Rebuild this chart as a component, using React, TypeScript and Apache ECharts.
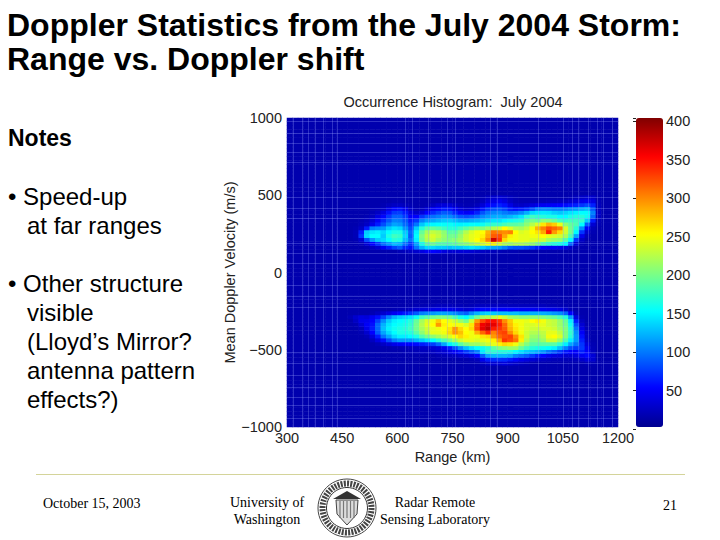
import React, { useEffect, useRef } from "react";
import * as echarts from "echarts";

const titleLines = ["Doppler Statistics from the July 2004 Storm:", "Range vs. Doppler shift"];
const notesHeading = "Notes";
const noteLines = [
  { text: "• Speed-up", x: 8, y: 196 },
  { text: "at far ranges", x: 27, y: 225 },
  { text: "• Other structure", x: 8, y: 283 },
  { text: "visible", x: 27, y: 312 },
  { text: "(Lloyd’s Mirror?", x: 27, y: 341 },
  { text: "antenna pattern", x: 27, y: 370 },
  { text: "effects?)", x: 27, y: 399 },
];

const rangeStep = 15;
const velocityStep = 25;
const ranges: number[] = [];
for (let r = 300; r < 1200; r += rangeStep) ranges.push(r);
const velocities: number[] = [];
for (let v = -1000; v < 1000; v += velocityStep) velocities.push(v);

const backgroundCount = 14;
const bandStartRange = 465;

const upperVelocities = [475, 450, 425, 400, 375, 350, 325, 300, 275, 250, 225, 200, 175, 150, 125];
const upperBand = [
  [14,14,14,14,14,14,14,14,14,14,14,14,14,14,14,14,14,14,14,14,14,14,14,14,16,22,28,30,26,20,16,14,14,14,14,14,14,14,14,14,16,20,24,28,26,16],
  [14,14,14,14,14,14,14,14,16,16,14,14,14,14,14,14,14,14,14,14,14,14,14,14,20,32,38,44,36,24,18,16,16,16,18,18,20,20,22,24,28,34,40,44,38,18],
  [14,14,14,14,14,14,16,20,24,24,20,16,14,14,16,22,30,34,32,24,18,16,16,20,32,48,55,62,56,38,26,24,28,34,40,44,46,48,50,54,58,62,70,78,62,20],
  [14,14,14,14,16,18,22,36,52,56,42,24,16,20,30,44,52,60,58,44,32,26,28,36,58,74,82,85,76,62,55,60,68,82,100,106,104,100,100,102,108,112,120,125,86,22],
  [14,14,14,14,18,24,36,56,72,74,60,36,26,34,50,66,76,85,82,66,52,46,50,62,82,96,102,105,98,92,96,104,118,135,140,142,140,132,128,134,140,146,150,150,100,24],
  [14,14,14,16,22,36,52,72,88,88,74,48,50,70,84,94,100,106,104,94,84,80,84,92,104,112,118,120,116,122,130,140,165,175,170,165,160,160,150,150,160,165,165,155,90,22],
  [14,14,16,20,30,46,66,84,100,98,84,60,72,100,112,116,122,128,130,124,116,114,118,122,128,135,140,140,148,155,160,165,190,195,190,205,200,190,175,170,175,175,170,130,60,18],
  [14,14,18,24,40,60,80,100,114,110,92,70,96,128,144,148,150,152,154,148,146,148,152,150,155,165,170,170,178,185,185,190,205,220,235,260,280,270,240,205,190,180,150,85,30,16],
  [14,16,24,60,100,105,110,130,140,135,110,80,130,165,185,190,185,175,165,165,175,185,195,205,200,210,220,230,250,235,220,215,225,245,280,300,320,310,300,235,195,165,105,48,20,14],
  [14,18,60,130,140,145,135,150,160,160,130,90,145,190,215,225,220,205,185,185,200,220,235,245,250,280,305,300,295,300,250,235,240,250,260,285,340,290,265,230,195,150,70,28,16,14],
  [14,18,70,135,150,150,130,160,175,170,135,85,150,200,225,235,225,210,195,195,210,230,240,245,255,285,315,320,285,255,245,240,240,245,245,250,240,235,230,215,180,115,40,18,14,14],
  [14,16,30,80,110,130,135,150,165,160,125,95,145,195,220,230,215,205,200,205,215,230,240,250,265,300,370,330,265,245,245,240,240,235,235,230,215,210,205,185,150,70,24,14,14,14],
  [14,14,18,30,50,70,95,110,125,120,95,70,115,160,190,195,185,185,185,190,200,205,215,225,235,245,255,235,220,215,220,220,215,210,200,180,170,165,160,150,90,30,16,14,14,14],
  [14,14,14,16,22,30,45,60,75,85,65,55,95,120,135,135,130,130,125,130,130,135,140,135,130,120,115,110,100,85,80,80,75,70,60,50,45,45,40,34,24,16,14,14,14,14],
  [14,14,14,14,14,14,14,14,14,18,20,24,28,36,45,50,45,35,30,30,32,32,30,26,24,22,20,18,16,16,16,14,14,14,14,14,14,14,14,14,14,14,14,14,14,14],
];

const lowerVelocities = [-225, -250, -275, -300, -325, -350, -375, -400, -425, -450, -475, -500, -525, -550, -575, -600];
const lowerBand = [
  [14,14,14,14,14,14,14,14,14,14,14,14,16,16,18,18,20,20,20,18,18,16,18,20,22,22,22,22,22,20,20,20,20,20,20,20,18,18,16,16,14,14,14,14,14,14],
  [14,14,14,14,14,14,14,14,16,18,20,24,28,34,36,38,40,40,40,38,34,30,34,44,52,52,52,50,50,50,48,46,46,46,44,44,42,40,36,28,18,14,14,14,14,14],
  [14,14,14,14,16,22,28,36,44,52,60,70,85,100,105,110,115,115,112,105,95,88,105,120,130,135,130,125,125,125,125,120,120,120,120,118,115,110,105,90,50,18,14,14,14,14],
  [18,28,36,34,44,55,75,100,120,130,135,140,155,175,185,195,200,200,195,180,160,150,170,195,215,220,225,240,230,215,210,205,205,205,205,200,195,190,180,165,110,36,16,14,14,14],
  [14,24,40,42,50,75,105,130,145,150,155,165,190,215,235,245,270,250,240,230,210,195,230,290,320,340,345,330,295,270,245,245,240,250,255,245,230,225,210,190,145,60,22,14,14,14],
  [14,16,30,46,56,90,120,140,150,155,160,170,195,220,240,250,290,255,250,245,245,235,260,315,355,365,360,340,310,275,255,245,235,235,240,240,230,225,210,195,155,80,30,15,14,14],
  [14,14,20,40,60,90,125,145,155,160,165,175,195,215,230,240,245,250,260,290,265,250,265,320,360,375,340,330,315,280,260,245,235,230,230,235,235,230,215,200,165,95,38,18,14,14],
  [14,14,16,28,50,85,115,135,150,160,160,165,185,205,225,240,240,245,265,290,275,250,245,280,310,335,300,320,325,295,265,245,230,220,220,225,240,240,225,200,170,105,46,20,14,14],
  [14,14,14,18,34,60,95,115,135,145,145,150,160,180,195,205,215,225,235,250,265,255,245,245,260,265,290,310,320,325,295,260,230,210,210,220,245,250,235,200,165,110,55,22,14,14],
  [14,14,14,14,22,36,55,80,100,110,110,110,120,130,140,150,165,180,195,215,230,240,240,235,240,245,255,285,330,320,305,255,220,200,200,210,230,230,210,180,145,110,62,26,14,14],
  [14,14,14,14,14,18,24,32,40,46,48,50,54,60,66,74,90,115,145,160,185,200,210,210,220,230,240,255,265,260,245,220,200,185,185,185,185,185,170,145,115,95,70,34,16,14],
  [14,14,14,14,14,14,14,14,16,16,18,20,22,24,26,30,34,44,60,80,105,125,140,150,155,165,185,200,205,210,210,190,175,165,160,155,150,145,125,100,80,72,72,42,18,14],
  [14,14,14,14,14,14,14,14,14,14,16,16,18,20,20,22,26,30,38,46,58,72,85,100,145,170,170,165,165,160,150,140,130,125,120,110,95,85,72,58,50,48,62,48,22,14],
  [14,14,14,14,14,14,14,14,14,14,14,14,14,14,14,14,16,18,20,22,26,30,36,50,85,115,120,120,120,115,100,92,85,72,60,50,42,36,34,30,30,34,44,52,32,14],
  [14,14,14,14,14,14,14,14,14,14,14,14,14,14,14,14,14,14,14,14,14,14,16,20,42,60,66,68,66,60,52,42,36,30,26,22,20,18,18,18,18,20,26,34,28,14],
  [14,14,14,14,14,14,14,14,14,14,14,14,14,14,14,14,14,14,14,14,14,14,14,14,20,26,30,30,34,28,24,20,18,14,14,14,14,14,14,14,14,14,14,18,16,14],
];

const meshRanges = [316,341,357,376,398,422,436,621,640,683,735,757,852,871,982,1050,1075,1091,1118,1143,1159,1184];
const meshVelocities = [981,903,838,780,715,489,417,353,191,126,62,-81,-152,-223,-515,-586,-663,-741,-806,-858,-942];

const jetColors = ["#00008f","#0000ff","#0080ff","#00ffff","#80ff80","#ffff00","#ff8000","#ff0000","#800000"];

function buildCells(): number[][] {
  const lookup = new Map<string, number>();
  const addBand = (vels: number[], rows: number[][]) => {
    vels.forEach((v, i) =>
      rows[i].forEach((c, j) => lookup.set(`${bandStartRange + j * rangeStep}|${v}`, c)),
    );
  };
  addBand(upperVelocities, upperBand);
  addBand(lowerVelocities, lowerBand);
  const cells: number[][] = [];
  ranges.forEach((r, x) =>
    velocities.forEach((v, y) => {
      cells.push([x, y, lookup.get(`${r}|${v}`) ?? backgroundCount]);
    }),
  );
  return cells;
}

const sans = "'Liberation Sans', Arial, sans-serif";
const serif = "'Liberation Serif', 'Times New Roman', serif";
const axisText = { color: "#222", fontFamily: sans, fontSize: 14.5 };
const plainNumber = (v: number) => String(v).replace("-", "−");

export default function App() {
  const ref = useRef<HTMLDivElement>(null);
  useEffect(() => {
    if (!ref.current) return;
    const chart = echarts.init(ref.current, undefined, { renderer: "svg" });
    const slideText = (text: string, x: number, y: number, size: number, weight = "normal", family = sans, align = "left") => ({
      type: "text",
      x,
      y,
      silent: true,
      style: { text, fill: "#000", font: `${weight} ${size}px ${family}`, textAlign: align, textVerticalAlign: "middle" },
    });
    const sealX = 347;
    const sealY = 508;
    const seal = [
      { type: "circle", shape: { cx: sealX, cy: sealY, r: 29 }, style: { fill: "#fff", stroke: "#444", lineWidth: 1 } },
      { type: "circle", shape: { cx: sealX, cy: sealY, r: 24.5 }, style: { fill: "none", stroke: "#444", lineWidth: 6, lineDash: [2, 1.2] } },
      { type: "circle", shape: { cx: sealX, cy: sealY, r: 20.5 }, style: { fill: "#fff", stroke: "#333", lineWidth: 1 } },
      { type: "polygon", shape: { points: [[sealX - 11, sealY - 8], [sealX + 11, sealY - 8], [sealX + 10, sealY + 6], [sealX, sealY + 17], [sealX - 10, sealY + 6]] }, style: { fill: "#ddd", stroke: "#444", lineWidth: 1 } },
      { type: "polygon", shape: { points: [[sealX - 14, sealY - 9], [sealX, sealY - 17], [sealX + 14, sealY - 9]] }, style: { fill: "#333" } },
      ...[-7, -3.5, 0, 3.5, 7].map((d) => ({ type: "line", shape: { x1: sealX + d, y1: sealY - 7, x2: sealX + d, y2: sealY + 10 }, style: { stroke: "#777", lineWidth: 1.2 } })),
    ];
    chart.setOption({
      animation: false,
      backgroundColor: "#fff",
      grid: [
        { left: 287, top: 118, width: 331, height: 309 },
        { left: 636, top: 118, width: 27, height: 311 },
      ],
      xAxis: [
        { type: "category", gridIndex: 0, data: ranges, show: false },
        {
          type: "value", gridIndex: 0, min: 300, max: 1200, interval: 150, position: "bottom",
          name: "Range (km)", nameLocation: "middle", nameGap: 17, nameTextStyle: axisText,
          axisLine: { show: false },
          axisTick: { show: false },
          axisLabel: { ...axisText, margin: 3, hideOverlap: false, formatter: plainNumber },
          splitLine: { show: false },
        },
        { type: "value", gridIndex: 1, min: 0, max: 1, show: false },
      ],
      yAxis: [
        { type: "category", gridIndex: 0, data: velocities, show: false },
        {
          type: "value", gridIndex: 0, min: -1000, max: 1000, interval: 500, position: "left",
          name: "Mean Doppler Velocity (m/s)", nameLocation: "middle", nameGap: 47, nameRotate: 90, nameTextStyle: axisText,
          axisLine: { show: false },
          axisTick: { show: false },
          axisLabel: { ...axisText, margin: 5, formatter: plainNumber },
          splitLine: { show: false },
        },
        {
          type: "value", gridIndex: 1, min: 0, max: 404, interval: 50, position: "right",
          axisLine: { show: false },
          axisTick: { inside: true, length: 3, lineStyle: { color: "#222" } },
          axisLabel: { ...axisText, margin: 3, formatter: (v: number) => (v > 0 && v <= 400 ? String(v) : "") },
          splitLine: { show: false },
        },
      ],
      visualMap: {
        type: "continuous", min: 0, max: 400, seriesIndex: 0, calculable: false, hoverLink: false, realtime: false,
        left: 636, top: 118, itemWidth: 27, itemHeight: 309, padding: 0, showLabel: false, text: ["", ""],
        inRange: { color: jetColors },
        textStyle: { fontSize: 0 },
      },
      series: [
        {
          type: "heatmap", xAxisIndex: 0, yAxisIndex: 0, data: buildCells(), progressive: 0,
          itemStyle: { borderWidth: 0 }, emphasis: { disabled: true }, silent: true, z: 1,
        },
        {
          type: "line", xAxisIndex: 1, yAxisIndex: 1, data: [], silent: true, z: 2,
          markLine: {
            silent: true, symbol: "none", animation: false, label: { show: false },
            lineStyle: { color: "rgba(150,160,255,0.3)", width: 1, type: "solid" },
            data: [...meshRanges.map((xAxis) => ({ xAxis })), ...meshVelocities.map((yAxis) => ({ yAxis }))],
          },
        },
      ],
      title: {
        text: "Occurrence Histogram:  July 2004", left: 453, top: 94, textAlign: "center", padding: 0,
        textStyle: { ...axisText, fontWeight: "normal" },
      },
      graphic: [
        slideText(titleLines[0], 7, 25, 32, "bold"),
        slideText(titleLines[1], 7, 59, 32, "bold"),
        slideText(notesHeading, 8, 138, 23, "bold"),
        ...noteLines.map((l) => slideText(l.text, l.x, l.y, 24)),
        { type: "line", shape: { x1: 36, y1: 474.5, x2: 685, y2: 474.5 }, style: { stroke: "#d4d49a", lineWidth: 1 } },
        slideText("October 15, 2003", 43, 503, 14, "normal", serif),
        slideText("University of", 267, 502, 14, "normal", serif, "center"),
        slideText("Washington", 267, 519, 14, "normal", serif, "center"),
        slideText("Radar Remote", 435, 502, 14, "normal", serif, "center"),
        slideText("Sensing Laboratory", 435, 519, 14, "normal", serif, "center"),
        slideText("21", 670, 505, 14, "normal", serif, "center"),
        ...seal,
      ],
    });
    return () => chart.dispose();
  }, []);
  return <div ref={ref} style={{ position: "absolute", left: 0, top: 0, width: 720, height: 540 }} />;
}
